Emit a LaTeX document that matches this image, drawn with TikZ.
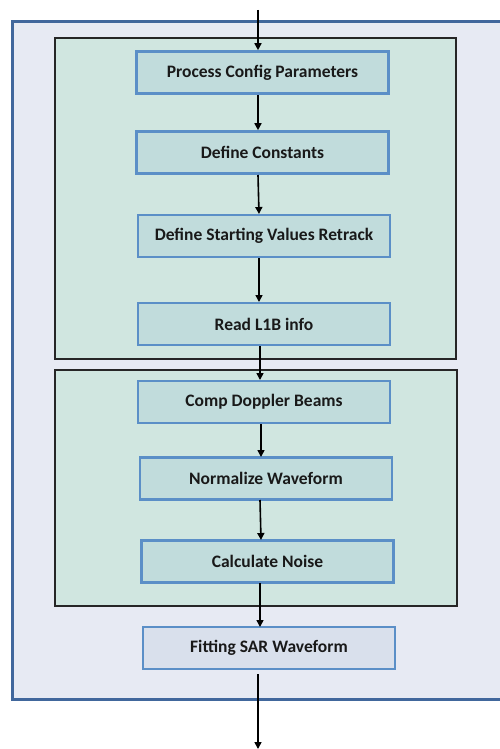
\documentclass[tikz,border=0pt]{standalone}
\usepackage{fontspec}
\setmainfont{Carlito}
\usetikzlibrary{arrows.meta}
\definecolor{outerfill}{HTML}{E7EAF3}
\definecolor{outerdraw}{HTML}{41679C}
\definecolor{groupfill}{HTML}{D0E6E0}
\definecolor{boxfill}{HTML}{C1DCDC}
\definecolor{boxdraw}{HTML}{5B8FC7}
\definecolor{fitfill}{HTML}{D9E0EC}
\begin{document}
\begin{tikzpicture}[x=1pt,y=-1pt,
  stepbox/.style={draw=boxdraw,line width=2.6pt,fill=boxfill,minimum width=252pt,minimum height=42pt,inner sep=0pt,font=\fontsize{17.5}{20}\selectfont\bfseries,text=black!90},
  flow/.style={line width=1.6pt,black,-{Triangle[length=7pt,width=7pt]}},
  group/.style={draw=black!85,line width=1.1pt,fill=groupfill}]
\useasboundingbox (0,0) rectangle (499,749);
\fill[white] (0,0) rectangle (499,749);
\draw[outerdraw,line width=3pt,fill=outerfill] (12,22) rectangle (510,699);
\draw[group] (55,38) rectangle (456,359);
\draw[group] (55,370) rectangle (457,606);
\node[stepbox] (p1) at (262.5,72.5) {Process Config Parameters};
\node[stepbox] (p2) at (262.5,152.5) {Define Constants};
\node[stepbox] (p3) at (264,236) {Define Starting Values Retrack};
\node[stepbox] (p4) at (264,324) {Read L1B info};
\node[stepbox] (p5) at (264,402) {Comp Doppler Beams};
\node[stepbox] (p6) at (266,478.5) {Normalize Waveform};
\node[stepbox] (p7) at (267.5,561.5) {Calculate Noise};
\node[stepbox,fill=fitfill] (p8) at (269,648) {Fitting SAR Waveform};
\coordinate (in) at (258,10);
\coordinate (out) at (258,749);
\draw[flow] (in) -- (p1.north -| in);
\draw[flow] (258,95) -- (p2.north -| 258,0);
\draw[flow] (258,175) -- (259,214);
\draw[flow] (259,258) -- (259,302);
\draw[flow] (260,346) -- (260,380);
\draw[flow] (261,424) -- (261,457);
\draw[flow] (260,500) -- (261,540);
\draw[flow] (260,583) -- (260,627);
\draw[flow] (258,674) -- (out);
\end{tikzpicture}
\end{document}
